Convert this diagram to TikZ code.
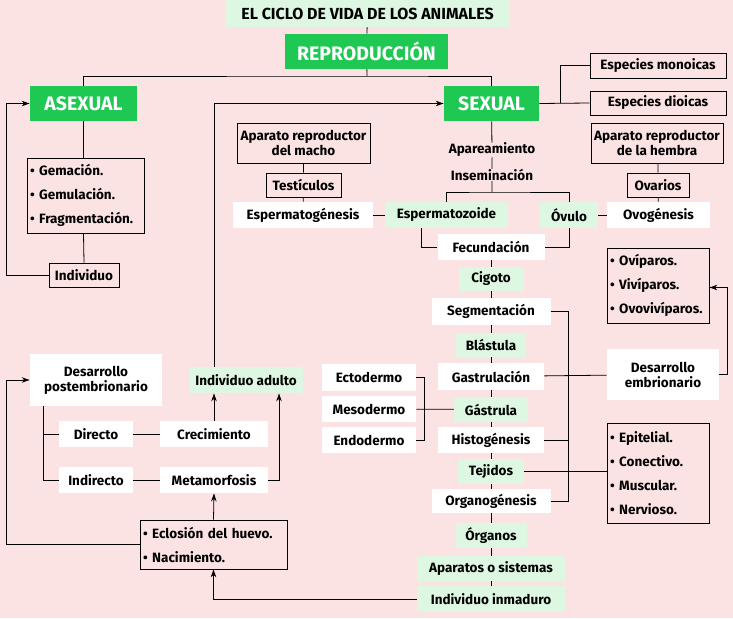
\documentclass[tikz,border=0pt]{standalone}
\usepackage{fontspec}
\setmainfont{Fira Sans}
\usepackage{tikz}
\usetikzlibrary{calc, positioning, arrows.meta}

\definecolor{bgpink}{HTML}{FCE3E3}
\definecolor{vivo}{HTML}{1EC853}
\definecolor{claro}{HTML}{DDF7E2}

\begin{document}
\begin{tikzpicture}[x=1pt, y=-1pt, line width=0.8pt,
    every node/.style={inner sep=0pt, font=\bfseries\fontsize{13.5}{15}\selectfont},
    fuerte/.style={fill=vivo, text=white, font=\bfseries\fontsize{19.5}{22}\selectfont},
    suave/.style={fill=claro},
    blanco/.style={fill=white},
    marco/.style={draw},
    lista/.style={draw, align=left, inner xsep=3pt, font=\bfseries\fontsize{13.5}{24}\selectfont},
    arr/.style={-{Stealth[length=8pt, width=5.5pt]}}]
        \fill[bgpink] (0,0) rectangle (733,618);
        \useasboundingbox (0,0) rectangle (733,618);

        % cabecera
        \node[suave, minimum width=285, minimum height=27, font=\bfseries\fontsize{16}{18}\selectfont] (titulo) at (367.5,13.5) {EL CICLO DE VIDA DE LOS ANIMALES};
        \node[fuerte, minimum width=163, minimum height=35] (repro) at (366.5,51.5) {REPRODUCCIÓN};
        \node[fuerte, minimum width=107, minimum height=35] (asexual) at (83.5,103.5) {ASEXUAL};
        \node[fuerte, minimum width=95, minimum height=35] (sexual) at (491.5,103.5) {SEXUAL};
        \coordinate (rb) at (367,76);

        % asexual
        \node[lista, minimum height=75, text width=111] (asexlista) at (85.5,195.5) {\textbullet\ Gemación.\\\textbullet\ Gemulación.\\\textbullet\ Fragmentación.};
        \node[marco, minimum width=70, minimum height=24] (individuo) at (84,275) {Individuo};

        % sexual
        \node[marco, minimum width=136, minimum height=25] (monoicas) at (658,65.5) {Especies monoicas};
        \node[marco, minimum width=136, minimum height=24] (dioicas) at (658,103) {Especies dioicas};
        \coordinate (sx) at (560,103);
        \node[marco, minimum width=133, minimum height=40, align=center] (macho) at (303.5,143) {Aparato reproductor\\del macho};
        \node[marco, minimum width=75, minimum height=24] (testiculos) at (303.5,185) {Testículos};
        \node[blanco, minimum width=140, minimum height=26] (espgen) at (303,215) {Espermatogénesis};
        \node[marco, minimum width=132, minimum height=40, align=center] (hembra) at (657,143) {Aparato reproductor\\de la hembra};
        \node[marco, minimum width=62, minimum height=24] (ovarios) at (658,185) {Ovarios};
        \node[blanco, minimum width=103, minimum height=26] (ovogen) at (658.5,215) {Ovogénesis};
        \node[suave, minimum width=123, minimum height=26] (espzoide) at (446.5,215) {Espermatozoide};
        \node[suave, minimum width=58, minimum height=26] (ovulo) at (569,215) {Óvulo};
        \node (apar) at (492,150) {Apareamiento};
        \node (insem) at (492,175) {Inseminación};
        \coordinate (ins) at (492,192);

        % desarrollo embrionario
        \node[blanco, minimum width=107, minimum height=26] (fecund) at (491,247) {Fecundación};
        \node[suave, minimum width=65, minimum height=24] (cigoto) at (491,279) {Cigoto};
        \node[blanco, minimum width=119, minimum height=27] (segm) at (491,311.5) {Segmentación};
        \node[suave, minimum width=70, minimum height=24] (blastula) at (491,345) {Blástula};
        \node[blanco, minimum width=106, minimum height=27] (gastrulacion) at (491,376.5) {Gastrulación};
        \node[suave, minimum width=74, minimum height=25] (gastrula) at (491,409.5) {Gástrula};
        \node[blanco, minimum width=106, minimum height=26] (histog) at (491,440) {Histogénesis};
        \node[suave, minimum width=66, minimum height=25] (tejidos) at (491,471.5) {Tejidos};
        \node[blanco, minimum width=119, minimum height=24] (organog) at (491,501) {Organogénesis};
        \node[suave, minimum width=71, minimum height=25] (organos) at (491,535.5) {Órganos};
        \node[suave, minimum width=148, minimum height=25] (aparatos) at (491,568.5) {Aparatos o sistemas};
        \node[suave, minimum width=148, minimum height=26] (inmaduro) at (491,599) {Individuo inmaduro};
        \coordinate (brx) at (568,0);

        \node[lista, minimum height=75, text width=96] (ovilista) at (658,285.5) {\textbullet\ Ovíparos.\\\textbullet\ Vivíparos.\\\textbullet\ Ovovivíparos.};
        \node[blanco, minimum width=112, minimum height=51, align=center] (desemb) at (663,374.5) {Desarrollo\\embrionario};
        \node[lista, minimum height=100, text width=96] (tejlista) at (658,473) {\textbullet\ Epitelial.\\\textbullet\ Conectivo.\\\textbullet\ Muscular.\\\textbullet\ Nervioso.};
        \node[blanco, minimum width=94, minimum height=27] (ecto) at (369,377.5) {Ectodermo};
        \node[blanco, minimum width=94, minimum height=26] (meso) at (369,409) {Mesodermo};
        \node[blanco, minimum width=94, minimum height=26] (endo) at (369,440) {Endodermo};

        % desarrollo postembrionario
        \node[blanco, minimum width=132, minimum height=52, align=center] (despost) at (96,380) {Desarrollo\\postembrionario};
        \node[suave, minimum width=114, minimum height=26] (adulto) at (246,380) {Individuo adulto};
        \node[blanco, minimum width=74, minimum height=26] (directo) at (96,434) {Directo};
        \node[blanco, minimum width=108, minimum height=26] (crec) at (214,434) {Crecimiento};
        \node[blanco, minimum width=74, minimum height=26] (indirecto) at (96,480) {Indirecto};
        \node[blanco, minimum width=108, minimum height=26] (metam) at (214,480) {Metamorfosis};
        \node[lista, minimum height=49, text width=141] (eclosion) at (213.5,544.5) {\textbullet\ Eclosión del huevo.\\\textbullet\ Nacimiento.};
        \coordinate (dp) at (43,406);

        % conexiones
        \draw (titulo) -- (repro);
        \draw (repro) -- (rb);
        \draw (asexual.north) |- (rb) -| (sexual.north);
        \draw (asexual.south) -- (asexual.south |- asexlista.north);
        \draw (asexual.south |- asexlista.south) -- (individuo.north);
        \draw[arr] (individuo.west) -- ++(-42,0) |- (asexual.west);
        \draw (sexual.east) -- (dioicas.west);
        \draw (sx) |- (monoicas.west);
        \draw[arr] (adulto.north -| crec.north) |- (sexual.west);
        \draw (macho) -- (testiculos) -- (espgen);
        \draw (hembra.south -| ovarios.north) -- (ovarios) -- (ovogen);
        \draw (espgen) -- (espzoide);
        \draw (ovulo) -- (ovogen);
        \draw (sexual) -- (apar) -- (insem) -- (ins);
        \draw (espzoide.north) |- (ins) -| (ovulo.north);
        \draw ([xshift=-25pt]espzoide.south) |- (fecund.west);
        \draw (ovulo.south) |- (fecund.east);
        \foreach \a/\b in {fecund/cigoto, cigoto/segm, segm/blastula, blastula/gastrulacion,
            gastrulacion/gastrula, gastrula/histog, histog/tejidos, tejidos/organog,
            organog/organos, organos/aparatos, aparatos/inmaduro}
            \draw (\a) -- (\b);
        \draw (segm.east) -- (segm.east -| brx) |- (organog.east);
        \draw (histog.east) -- (histog.east -| brx);
        \draw (gastrulacion) -- (desemb);
        \draw[arr] (desemb.east) -- ++(8,0) |- ([yshift=-2pt]ovilista.east);
        \draw (tejidos.east) -- (tejidos.east -| tejlista.west);
        \draw (ecto.east) -- ++(8,0) |- (endo.east);
        \draw (meso) -- (gastrula);
        \draw[arr] (inmaduro.west) -| (eclosion.south);
        \draw[arr] (eclosion.north) -- (metam.south);
        \draw[arr] (eclosion.west) -- ++(-133,0) |- (despost.west);
        \draw (dp) |- (indirecto.west);
        \draw (directo.west) -- (directo.west -| dp);
        \draw (directo) -- (crec);
        \draw (indirecto) -- (metam);
        \draw[arr] (crec.north) -- (crec.north |- adulto.south);
        \draw[arr] (metam.east) -| ([xshift=33pt]adulto.south);
    \end{tikzpicture}
\end{document}
